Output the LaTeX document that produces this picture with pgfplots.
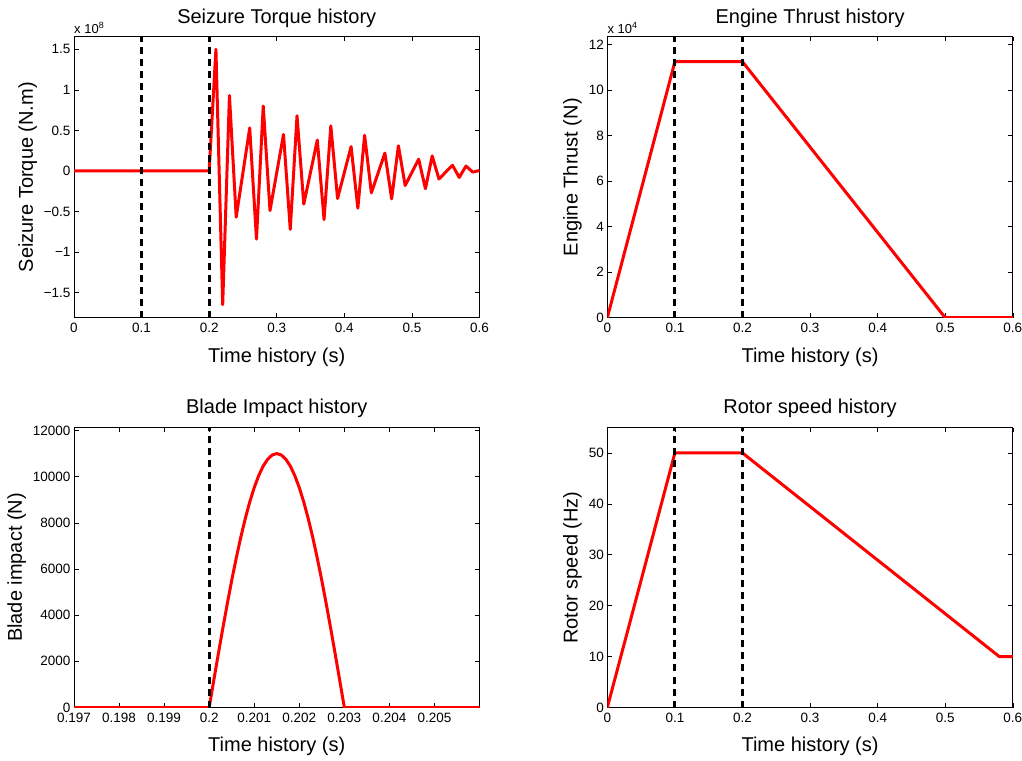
\documentclass[border=0pt]{standalone}
\usepackage{pgfplots}
\pgfplotsset{compat=1.18}
\usepackage{fontspec}
\setmainfont{Liberation Sans}
\begin{document}
\begin{tikzpicture}
\path[use as bounding box] (0pt,0pt) rectangle (1022pt,760pt);
\pgfplotsset{
  mat/.style={
    scale only axis, width=405.5pt, height=281pt,
    anchor=south west,
    axis line style={line width=0.7pt},
    tick style={black, line width=0.6pt},
    major tick length=4.5pt,
    tick align=inside,
    tick label style={font=\fontsize{13.5}{13.5}\selectfont},
    xticklabel style={yshift=-2pt},
    label style={font=\fontsize{20}{22}\selectfont},
    xlabel style={yshift=-8pt},
    title style={font=\fontsize{20}{22}\selectfont},
    xlabel={Time history (s)},
    scaled ticks=false,
    clip mode=individual,
  },
  redline/.style={red, line width=3pt, line join=round, mark=none},
  dline/.style={black, line width=3pt, dash pattern=on 7pt off 5pt, mark=none},
}

% ---------------- Seizure torque ----------------
\begin{axis}[mat, at={(74pt,442.3pt)},
  title={Seizure Torque history},
  ylabel={Seizure Torque (N.m)},
  xmin=0, xmax=0.6, ymin=-1.81, ymax=1.655,
  xtick={0,0.1,0.2,0.3,0.4,0.5,0.6},
  xticklabels={0,0.1,0.2,0.3,0.4,0.5,0.6},
  ytick={-1.5,-1,-0.5,0,0.5,1,1.5},
  yticklabels={−1.5,−1,−0.5,0,0.5,1,1.5},
]
\addplot[redline] coordinates {
(0,0) (0.2,0) (0.21,1.5) (0.22,-1.65) (0.23,0.93) (0.24,-0.57) (0.26,0.53)
(0.27,-0.84) (0.28,0.80) (0.29,-0.49) (0.31,0.45) (0.32,-0.72) (0.33,0.68)
(0.34,-0.41) (0.36,0.38) (0.37,-0.60) (0.38,0.555) (0.39,-0.34) (0.41,0.30)
(0.42,-0.46) (0.43,0.44) (0.44,-0.27) (0.46,0.22) (0.47,-0.345) (0.48,0.31)
(0.49,-0.18) (0.51,0.145) (0.52,-0.22) (0.53,0.185) (0.54,-0.10) (0.56,0.07)
(0.57,-0.08) (0.58,0.06) (0.59,-0.015) (0.60,0.005)
};
\addplot[dline] coordinates {(0.1,-1.81) (0.1,1.655)};
\addplot[dline] coordinates {(0.2,-1.81) (0.2,1.655)};
\node[anchor=south west, inner sep=0pt, font=\fontsize{13}{13}\selectfont] at (rel axis cs:0,1) [yshift=3pt] {x 10\raisebox{5pt}{\fontsize{9}{9}\selectfont 8}};
\end{axis}

% ---------------- Engine thrust ----------------
\begin{axis}[mat, at={(607.3pt,442.3pt)},
  title={Engine Thrust history},
  ylabel={Engine Thrust (N)},
  xmin=0, xmax=0.6, ymin=0, ymax=12.35,
  xtick={0,0.1,0.2,0.3,0.4,0.5,0.6},
  xticklabels={0,0.1,0.2,0.3,0.4,0.5,0.6},
  ytick={0,2,4,6,8,10,12},
  yticklabels={0,2,4,6,8,10,12},
]
\addplot[redline] coordinates {(0,0) (0.1,11.25) (0.2,11.25) (0.5,0) (0.6,0)};
\addplot[dline] coordinates {(0.1,0) (0.1,12.35)};
\addplot[dline] coordinates {(0.2,0) (0.2,12.35)};
\node[anchor=south west, inner sep=0pt, font=\fontsize{13}{13}\selectfont] at (rel axis cs:0,1) [yshift=3pt] {x 10\raisebox{5pt}{\fontsize{9}{9}\selectfont 4}};
\end{axis}

% ---------------- Blade impact ----------------
\begin{axis}[mat, at={(74pt,52.5pt)}, height=280pt,
  title={Blade Impact history},
  ylabel={Blade impact (N)},
  xmin=0.197, xmax=0.206, ymin=0, ymax=12130,
  xtick={0.197,0.198,0.199,0.2,0.201,0.202,0.203,0.204,0.205},
  xticklabels={0.197,0.198,0.199,0.2,0.201,0.202,0.203,0.204,0.205},
  ytick={0,2000,4000,6000,8000,10000,12000},
  yticklabels={0,2000,4000,6000,8000,10000,12000},
]
\addplot[redline] coordinates {
(0.197,0) (0.2000,0) (0.2001,1149.8) (0.2002,2287.0) (0.2003,3399.2) (0.2004,4474.1)
(0.2005,5500.0) (0.2006,6465.6) (0.2007,7360.4) (0.2008,8174.6) (0.2009,8899.2)
(0.2010,9526.3) (0.2011,10049.0) (0.2012,10461.6) (0.2013,10759.6) (0.2014,10939.7)
(0.2015,11000) (0.2016,10939.7) (0.2017,10759.6) (0.2018,10461.6) (0.2019,10049.0)
(0.2020,9526.3) (0.2021,8899.2) (0.2022,8174.6) (0.2023,7360.4) (0.2024,6465.6)
(0.2025,5500.0) (0.2026,4474.1) (0.2027,3399.2) (0.2028,2287.0) (0.2029,1149.8)
(0.2030,0) (0.206,0)
};
\addplot[dline] coordinates {(0.2,0) (0.2,12130)};
\end{axis}

% ---------------- Rotor speed ----------------
\begin{axis}[mat, at={(607.3pt,52.5pt)}, height=280pt,
  title={Rotor speed history},
  ylabel={Rotor speed (Hz)},
  xmin=0, xmax=0.6, ymin=0, ymax=55,
  xtick={0,0.1,0.2,0.3,0.4,0.5,0.6},
  xticklabels={0,0.1,0.2,0.3,0.4,0.5,0.6},
  ytick={0,10,20,30,40,50},
  yticklabels={0,10,20,30,40,50},
]
\addplot[redline] coordinates {(0,0) (0.1,50) (0.2,50) (0.58,10) (0.6,10)};
\addplot[dline] coordinates {(0.1,0) (0.1,55)};
\addplot[dline] coordinates {(0.2,0) (0.2,55)};
\end{axis}
\end{tikzpicture}
\end{document}
